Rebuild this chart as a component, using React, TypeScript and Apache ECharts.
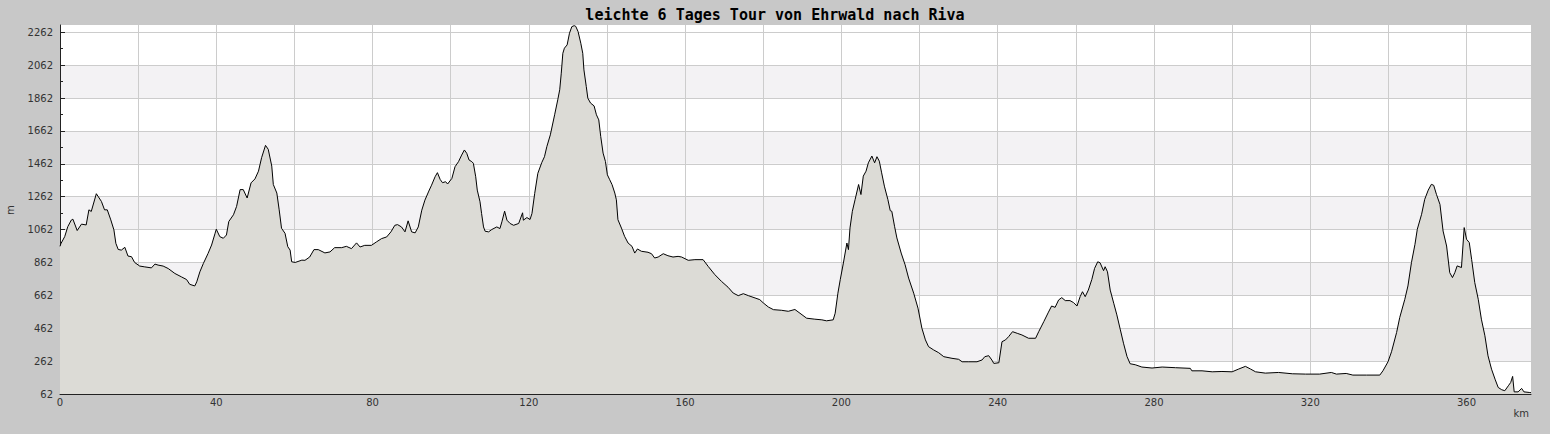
import React, { useEffect, useRef } from "react";
import * as echarts from "echarts";

const TITLE = "leichte 6 Tages Tour von Ehrwald nach Riva";
const X_UNIT = "km";
const Y_UNIT = "m";

const distanceKm = [
  0, 0.2, 1.2, 2.0, 2.9, 3.3, 4.4, 5.5, 6.7, 7.4, 8.0, 9.3, 10.6, 11.4, 12.1, 13.0, 13.8, 14.3, 14.9, 15.7,
  16.6, 17.4, 18.3, 19.1, 20.4, 21.7, 23.4, 24.3, 25.1, 26.4, 27.7, 29.4, 31.1, 32.4, 33.2, 34.5, 35.0, 35.8,
  36.7, 37.9, 38.8, 39.7, 40.0, 40.9, 41.8, 42.6, 43.2, 44.4, 45.2, 46.1, 46.9, 47.9, 48.9, 49.9, 50.8, 51.6,
  52.6, 53.3, 54.2, 54.6, 55.5, 56.1, 56.7, 57.6, 58.3, 58.9, 59.3, 60.2, 61.9, 62.7, 63.9, 65.0,
  66.1, 67.8, 69.1, 70.3, 72.1, 73.3, 74.6, 75.9, 76.8, 78.0, 79.7, 81.0, 82.3, 83.6, 84.7, 85.7, 86.4, 87.4,
  88.3, 89.1, 90.0, 90.9, 91.7, 92.6, 93.4, 94.4, 95.1, 96.0, 96.6, 97.3, 97.9, 98.7, 99.2, 100.3, 101.1,
  102.0, 102.8, 103.5, 104.1, 104.7, 105.4, 105.8, 106.4, 106.8, 107.5, 107.9, 108.4, 108.8, 109.7, 110.5,
  111.8, 112.6, 113.1, 113.8, 114.4, 115.2, 116.1, 117.4, 118.4, 118.6, 119.5, 120.3, 120.8, 121.5, 122.3,
  123.3, 124.0, 124.6, 125.5, 126.6, 127.4, 127.9, 128.3, 128.7, 129.1, 129.8, 130.4, 131.0, 131.6, 132.0,
  132.6, 133.3, 133.8, 134.1, 134.7, 135.1, 135.8, 136.7, 137.3, 137.9, 138.4, 139.0, 139.6, 140.1, 140.7,
  141.3, 142.0, 142.4, 142.8, 143.7, 144.5, 145.4, 146.4, 147.1, 147.8, 148.8, 150.5, 151.4, 152.2, 153.1,
  154.4, 155.6, 156.9, 158.2, 159.1, 160.8, 162.5, 164.6, 165.9, 167.6, 169.3, 171.0, 172.3, 173.6, 174.9,
  176.2, 177.9, 179.1, 180.0, 181.3, 182.6, 184.7, 186.4, 188.1, 189.4, 191.1, 193.2, 195.0, 196.2, 197.9,
  198.4, 199.1, 199.7, 200.5, 201.4, 201.8, 202.2, 202.8, 203.5, 204.4, 205.0, 205.6, 206.3, 206.9, 207.8,
  208.5, 209.1, 209.7, 210.3, 211.0, 211.9, 212.5, 212.9, 213.6, 214.2, 215.3, 216.3, 217.2, 218.5, 219.6,
  220.6, 221.5, 222.3, 223.6, 224.9, 226.2, 228.3, 230.0, 230.9, 232.6, 234.7, 236.0, 236.7, 237.7, 238.5,
  239.0, 240.3, 241.1, 242.0, 242.8, 243.8, 245.0, 246.2, 247.9, 249.7, 250.5, 251.8, 253.0, 253.8, 254.7,
  255.6, 256.4, 257.3, 258.5, 259.4, 260.3, 261.1, 261.7, 262.4, 263.2, 264.1, 264.8, 265.6, 266.2, 267.1,
  267.5, 268.1, 268.8, 269.7, 270.5, 271.4, 272.2, 273.1, 273.9, 275.2, 276.9, 279.5, 282.1, 285.5, 289.3,
  289.7, 292.3, 294.9, 297.4, 300.0, 301.7, 303.4, 304.7, 306.0, 308.5, 311.9, 315.4, 318.8, 322.4, 325.4,
  326.7, 329.2, 330.9, 334.4, 337.8, 338.6, 339.9, 340.8, 342.1, 342.9, 344.2, 345.0, 345.9, 346.8, 347.4,
  348.5, 349.3, 350.2, 351.0, 351.6, 352.3, 353.2, 354.0, 354.9, 355.7, 356.4, 357.0, 357.6, 358.7, 359.4,
  360.0, 360.7, 361.3, 362.1, 363.0, 363.8, 364.7, 365.5, 366.4, 367.3, 368.1, 369.0, 369.8, 370.7, 371.3,
  371.8, 372.2, 373.2, 374.1, 374.7, 376.2, 376.5,
];

const elevationM = [
  960, 975, 1019, 1080, 1120, 1125, 1056, 1095, 1090, 1182, 1172, 1280, 1233, 1182, 1182, 1121, 1060, 978, 941, 937,
  954, 901, 897, 862, 840, 835, 829, 852, 846, 840, 825, 795, 774, 758, 729, 719, 744, 805,
  856, 917, 968, 1040, 1064, 1019, 1009, 1029, 1111, 1152, 1203, 1305, 1305, 1254, 1346, 1370, 1417, 1499,
  1574, 1550, 1448, 1336, 1284, 1182, 1070, 1039, 958, 937, 866, 862, 876, 875, 895, 940,
  940, 920, 926, 952, 952, 960, 946, 981, 956, 966, 966, 987, 1007, 1017, 1048, 1088, 1092, 1078,
  1048, 1115, 1048, 1042, 1078, 1180, 1241, 1296, 1332, 1383, 1408, 1367, 1347, 1353, 1339, 1373, 1444,
  1475, 1515, 1546, 1526, 1485, 1475, 1465, 1383, 1302, 1231, 1160, 1078, 1052, 1048, 1062,
  1078, 1068, 1109, 1174, 1119, 1099, 1088, 1099, 1164, 1119, 1135, 1123, 1160, 1282, 1404,
  1469, 1505, 1566, 1638, 1760, 1851, 1912, 2013, 2134, 2165, 2185, 2256, 2296, 2302, 2298,
  2266, 2195, 2134, 2033, 1932, 1861, 1831, 1814, 1760, 1729, 1628, 1527, 1476, 1395, 1365,
  1335, 1284, 1243, 1122, 1071, 1021, 980, 960, 919, 944, 930, 924, 915, 889, 895,
  915, 903, 895, 899, 895, 875, 879, 879, 838, 788, 747, 711, 676, 660, 672,
  660, 646, 636, 616, 591, 575, 571, 565, 576, 553, 523, 517, 513, 507, 513,
  553, 675, 757, 858, 980, 940, 1072, 1173, 1244, 1336, 1275, 1387, 1417, 1468, 1509,
  1468, 1505, 1478, 1407, 1326, 1244, 1177, 1173, 1082, 1011, 919, 848, 767, 675, 584,
  462, 391, 350, 330, 313, 289, 279, 273, 258, 258, 258, 269, 289, 295, 269,
  248, 252, 380, 391, 411, 441, 431, 421, 401, 401, 441, 502, 560, 597, 589,
  634, 648, 630, 630, 618, 597, 654, 684, 654, 694, 759, 826, 866, 860, 812,
  836, 805, 694, 614, 543, 452, 371, 290, 246, 240, 226, 220, 226, 222, 218,
  203, 203, 197, 199, 197, 214, 230, 214, 197, 189, 193, 185, 183, 183, 193,
  183, 187, 177, 177, 177, 203, 258, 319, 436, 527, 638, 719, 861, 972, 1064,
  1155, 1246, 1302, 1337, 1331, 1276, 1215, 1053, 962, 800, 770, 800, 841, 831, 1074,
  1003, 983, 881, 740, 638, 517, 416, 294, 213, 152, 102, 88, 82, 112, 132,
  169, 75, 75, 96, 75, 71, 70,
];

const xMin = 0;
const xMax = 376.5;
const xMajorTicks = [0, 20, 40, 60, 80, 100, 120, 140, 160, 180, 200, 220, 240, 260, 280, 300, 320, 340, 360];
const xMinorTicks = [10, 30, 50, 70, 90, 110, 130, 150, 170, 190, 210, 230, 250, 270, 290, 310, 330, 350, 370];
const xTickLabels = [0, 40, 80, 120, 160, 200, 240, 280, 320, 360];

const yMin = 62;
const yMax = 2306;
const yMajorTicks = [62, 262, 462, 662, 862, 1062, 1262, 1462, 1662, 1862, 2062, 2262];
const yMinorTicks = [162, 362, 562, 762, 962, 1162, 1362, 1562, 1762, 1962, 2162];

const LABEL_FONT = "DejaVu Sans";
const AXIS_COLOR = "#222222";

export default function App() {
  const ref = useRef<HTMLDivElement>(null);

  useEffect(() => {
    if (!ref.current) return;
    const chart = echarts.init(ref.current, undefined, { renderer: "svg" });
    const points = distanceKm.map((d, i) => [d, elevationM[i]]);
    const labelStyle = { fontFamily: LABEL_FONT, fontSize: 10, color: "#333333" };
    const plain = (v: number) => String(v);

    chart.setOption({
      animation: false,
      backgroundColor: "#c8c8c8",
      title: {
        text: TITLE,
        left: "center",
        top: 7,
        padding: 0,
        textStyle: { fontFamily: "DejaVu Sans Mono", fontSize: 15, fontWeight: "bold", color: "#000000" },
      },
      grid: {
        left: 60,
        right: 19,
        top: 25,
        bottom: 40,
        show: true,
        backgroundColor: "#ffffff",
        borderWidth: 0,
      },
      xAxis: [
        {
          type: "value",
          min: xMin,
          max: xMax,
          position: "bottom",
          axisLine: { show: true, onZero: false, lineStyle: { color: AXIS_COLOR, width: 1 } },
          axisTick: { show: true, inside: true, length: 5, customValues: xMajorTicks, lineStyle: { color: AXIS_COLOR } },
          axisLabel: { show: true, customValues: xTickLabels, margin: 3, formatter: plain, ...labelStyle },
          splitLine: { show: true, lineStyle: { color: "#cccccc", width: 1 } },
        },
        {
          type: "value",
          min: xMin,
          max: xMax,
          position: "bottom",
          axisLine: { show: false, onZero: false },
          axisTick: { show: true, inside: true, length: 3, customValues: xMinorTicks, lineStyle: { color: AXIS_COLOR } },
          axisLabel: { show: false },
          splitLine: { show: false },
        },
      ],
      yAxis: [
        {
          type: "value",
          min: yMin,
          max: yMax,
          position: "left",
          axisLine: { show: true, onZero: false, lineStyle: { color: AXIS_COLOR, width: 1 } },
          axisTick: { show: true, inside: true, length: 5, customValues: yMajorTicks, lineStyle: { color: AXIS_COLOR } },
          axisLabel: { show: true, customValues: yMajorTicks, margin: 7, formatter: plain, ...labelStyle },
          splitLine: { show: true, lineStyle: { color: "#cccccc", width: 1 } },
          splitArea: { show: true, areaStyle: { color: ["#ffffff", "#f3f2f4"] } },
        },
        {
          type: "value",
          min: yMin,
          max: yMax,
          position: "left",
          offset: 0,
          axisLine: { show: false, onZero: false },
          axisTick: { show: true, inside: true, length: 3, customValues: yMinorTicks, lineStyle: { color: AXIS_COLOR } },
          axisLabel: { show: false },
          splitLine: { show: false },
        },
      ],
      graphic: [
        {
          type: "text",
          x: 1529,
          y: 413,
          style: { text: X_UNIT, fontFamily: LABEL_FONT, fontSize: 10, fill: "#333333", textAlign: "right", textVerticalAlign: "middle" },
        },
        {
          type: "text",
          x: 10,
          y: 210,
          rotation: Math.PI / 2,
          style: { text: Y_UNIT, fontFamily: LABEL_FONT, fontSize: 10, fill: "#333333", textAlign: "center", textVerticalAlign: "middle" },
        },
      ],
      series: [
        {
          type: "line",
          xAxisIndex: 0,
          yAxisIndex: 0,
          data: points,
          symbol: "none",
          lineStyle: { color: "#000000", width: 1 },
          areaStyle: { color: "#dcdbd6", opacity: 1, origin: "start" },
          z: 3,
        },
      ],
    });

    return () => chart.dispose();
  }, []);

  return (
    <div
      ref={ref}
      style={{ position: "fixed", left: 0, top: 0, width: 1550, height: 434, background: "#c8c8c8" }}
    />
  );
}
